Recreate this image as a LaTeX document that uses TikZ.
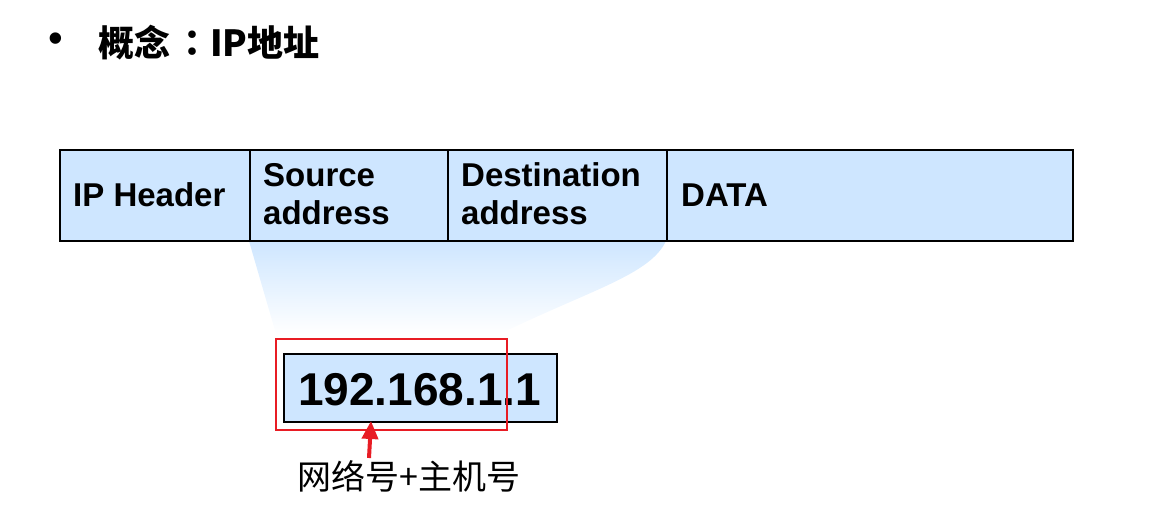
\documentclass[tikz,border=0pt]{standalone}
\usepackage{fontspec}
\setmainfont{Liberation Sans}
\newfontfamily\cjk{Noto Sans CJK SC}
\newfontfamily\cjktc{Noto Sans CJK TC}
\usetikzlibrary{arrows.meta}
\definecolor{cellblue}{RGB}{206,230,255}
\definecolor{markred}{RGB}{232,28,36}
\tikzset{
  cell/.style={draw=black, line width=1.6pt, fill=cellblue, inner sep=0pt, anchor=north west, minimum height=91pt},
  celltxt/.style={inner sep=0pt, anchor=base west, font=\fontsize{33}{38}\selectfont\bfseries},
}
\begin{document}
\begin{tikzpicture}[x=1pt,y=-1pt]
\useasboundingbox (0,0) rectangle (1159,518);
% title
\node[inner sep=0pt, anchor=center, font=\fontsize{42}{42}\selectfont] (bul) at (56,43) {•};
\node[inner sep=0pt, anchor=west, font=\cjk\fontsize{36}{36}\selectfont\bfseries] (title) at (98,43) {概念\hspace{4pt}{\cjktc\bfseries ：}IP地址};
% funnel
\shade[top color=cellblue, bottom color=white] (249,241) -- (276,334) -- (500,334) .. controls (590,290) and (650,275) .. (666,241) -- cycle;
% cells
\node[cell, minimum width=190pt] (c1) at (59,149) {};
\node[cell, minimum width=198pt] (c2) at (249,149) {};
\node[cell, minimum width=219pt] (c3) at (447,149) {};
\node[cell, minimum width=406pt] (c4) at (666,149) {};
\node[celltxt] (t1) at (73,207) {IP Header};
\node[celltxt] (t2a) at (263,187) {Source};
\node[celltxt] (t2b) at (263,225) {address};
\node[celltxt] (t3a) at (461,187) {Destination};
\node[celltxt] (t3b) at (461,225) {address};
\node[celltxt] (t4) at (681,207) {DATA};
% ip box
\node[draw=black, line width=1.6pt, fill=cellblue, inner sep=0pt, minimum width=273pt, minimum height=68pt, anchor=north west] (ipbox) at (283,353) {};
\node[inner sep=0pt, anchor=base, font=\fontsize{46}{46}\selectfont\bfseries] (ip) at (419.5,405) {192.168.1.1};
% red frame
\node[draw=markred, line width=1.8pt, inner sep=0pt, minimum width=231pt, minimum height=91pt, anchor=north west] (redbox) at (275,338) {};
% label and arrow
\node[inner sep=0pt, anchor=center, font=\cjk\fontsize{34}{34}\selectfont] (lbl) at (409,476) {网络号+主机号};
\coordinate (atail) at (369,458);
\coordinate (ahead) at (371,421);
\draw[markred, line width=4pt, -{Triangle[length=18pt,width=16pt]}] (atail) -- (ahead);
\end{tikzpicture}
\end{document}
